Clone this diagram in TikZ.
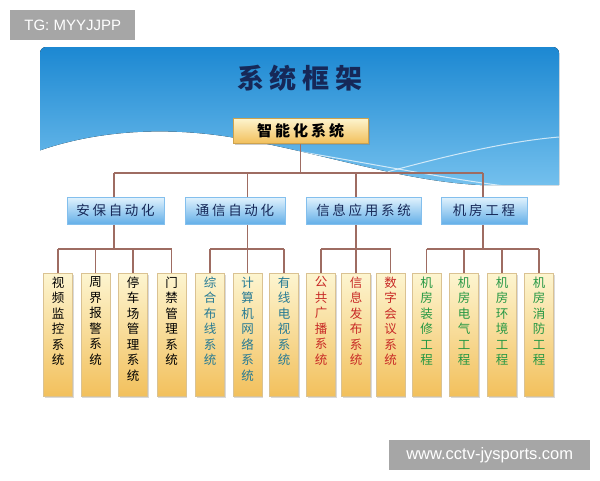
\documentclass[tikz,border=0pt]{standalone}
\usepackage{fontspec}
\usepackage{xcolor}
\usepackage{tikz}
\usetikzlibrary{shadows,calc}
\newfontfamily\cjk{Noto Sans CJK SC}
\newfontfamily\cjkwide[LetterSpace=20]{Noto Sans CJK SC}
\newfontfamily\latin{Liberation Sans}
\definecolor{sysskytop}{RGB}{28,136,210}
\definecolor{sysskybot}{RGB}{125,198,240}
\definecolor{sysnavy}{RGB}{22,40,88}
\definecolor{syslink}{RGB}{158,108,98}
\definecolor{sysgold}{RGB}{242,192,92}
\definecolor{syscream}{RGB}{253,245,208}
\definecolor{sysice}{RGB}{226,243,253}
\definecolor{sysblue}{RGB}{100,175,232}
\definecolor{systeal}{RGB}{38,122,148}
\definecolor{sysred}{RGB}{200,42,38}
\definecolor{sysgreen}{RGB}{38,152,68}
\definecolor{sysmark}{RGB}{166,166,166}
\pgfdeclarelayer{sky}
\pgfdeclarelayer{wires}
\pgfsetlayers{sky,wires,main}

\begin{document}
\begin{tikzpicture}[x=1pt,y=-1pt,
  link/.style={syslink, line width=1.1pt},
  wmark/.style={fill=sysmark, text=white, inner sep=0pt, anchor=north west, minimum height=30pt},
  topbox/.style={draw=sysgold!85!black, top color=syscream, bottom color=sysgold,
    minimum width=135pt, minimum height=25pt, inner sep=0pt,
    drop shadow={shadow xshift=1.5pt, shadow yshift=-1.5pt, opacity=0.4},
    font=\cjkwide\bfseries\fontsize{15}{16}\selectfont},
  secbox/.style={draw=sysblue!80, top color=sysice, bottom color=sysblue,
    minimum height=27pt, inner sep=0pt, text=sysnavy,
    drop shadow={shadow xshift=1.2pt, shadow yshift=-1.2pt, opacity=0.3},
    font=\cjkwide\fontsize{13.5}{14}\selectfont},
  leafbox/.style={draw=sysgold!80!black!60, top color=syscream, bottom color=sysgold,
    minimum width=29pt, minimum height=123pt, inner sep=0pt, anchor=north,
    drop shadow={shadow xshift=1.2pt, shadow yshift=-1.5pt, opacity=0.3}},
  leaftext/.style={anchor=north, align=center, inner sep=0pt,
    font=\cjk\fontsize{12.5}{15.5}\selectfont}
]
\useasboundingbox (0,0) rectangle (600,480);

\begin{pgfonlayer}{sky}
\begin{scope}
\clip (30,30) -- (570,30) -- (570,185) -- (480,185) .. controls (400,181) and (320,152) .. (230,137)
  .. controls (160,126) and (90,131) .. (30,154) -- cycle;
\fill[rounded corners=6pt, top color=sysskytop, bottom color=sysskybot] (40,47) rectangle (559,200);
\draw[white, opacity=0.7, line width=1pt] (180,134) .. controls (300,148) and (420,176) .. (520,188);
\draw[white, opacity=0.7, line width=1pt] (365,178) .. controls (430,160) and (500,142) .. (559,137);
\end{scope}
\end{pgfonlayer}

\node[wmark, minimum width=125pt, font=\latin\fontsize{15}{18}\selectfont] (tg) at (10,10) {TG: MYYJJPP};
\node[wmark, minimum width=201pt, font=\latin\fontsize{16.5}{19}\selectfont] (site) at (389,440) {www.cctv-jysports.com};

\node[text=sysnavy, font=\cjk\bfseries\fontsize{27}{30}\selectfont] (title) at (300,78)
  {系\hspace{6pt}统\hspace{6pt}框\hspace{6pt}架};
\node[topbox] (top) at (300.5,130.5) {智能化系统};

\node[secbox, minimum width=97pt] (sec1) at (115.5,210.5) {安保自动化};
\node[secbox, minimum width=100pt] (sec2) at (235,210.5) {通信自动化};
\node[secbox, minimum width=115pt] (sec3) at (363.5,210.5) {信息应用系统};
\node[secbox, minimum width=86pt] (sec4) at (484,210.5) {机房工程};

\foreach \i/\x/\c/\t in {
  1/58/black/{视\\频\\监\\控\\系\\统},
  2/95.5/black/{周\\界\\报\\警\\系\\统},
  3/133/black/{停\\车\\场\\管\\理\\系\\统},
  4/171.5/black/{门\\禁\\管\\理\\系\\统},
  5/210/systeal/{综\\合\\布\\线\\系\\统},
  6/247.5/systeal/{计\\算\\机\\网\\络\\系\\统},
  7/284/systeal/{有\\线\\电\\视\\系\\统},
  8/321/sysred/{公\\共\\广\\播\\系\\统},
  9/356/sysred/{信\\息\\发\\布\\系\\统},
  10/390.5/sysred/{数\\字\\会\\议\\系\\统},
  11/426.5/sysgreen/{机\\房\\装\\修\\工\\程},
  12/464/sysgreen/{机\\房\\电\\气\\工\\程},
  13/502/sysgreen/{机\\房\\环\\境\\工\\程},
  14/539/sysgreen/{机\\房\\消\\防\\工\\程}} {
  \node[leafbox] (leaf\i) at (\x,273) {};
  \node[leaftext, text=\c] (word\i) at ($(leaf\i.north)+(0,3.5)$) {\t};
}

\coordinate (bus) at (300,173);
\coordinate (g1) at (114,249);
\coordinate (g2) at (247.5,249);
\coordinate (g3) at (356,249);
\coordinate (g4) at (483,249);

\begin{pgfonlayer}{wires}
\draw[link] (top.south) -- (top.south |- bus);
\draw[link] (g1 |- bus) -- (g4 |- bus);
\foreach \g in {1,...,4}
  \draw[link] (g\g |- bus) -- (g\g);
\draw[link] (leaf1.north |- g1) -- (leaf4.north |- g1);
\draw[link] (leaf5.north |- g2) -- (leaf7.north |- g2);
\draw[link] (leaf8.north |- g3) -- (leaf10.north |- g3);
\draw[link] (leaf11.north |- g4) -- (leaf14.north |- g4);
\foreach \i/\g in {1/1,2/1,3/1,4/1,5/2,6/2,7/2,8/3,9/3,10/3,11/4,12/4,13/4,14/4}
  \draw[link] (leaf\i.north |- g\g) -- (leaf\i.north);
\end{pgfonlayer}
\end{tikzpicture}
\end{document}
